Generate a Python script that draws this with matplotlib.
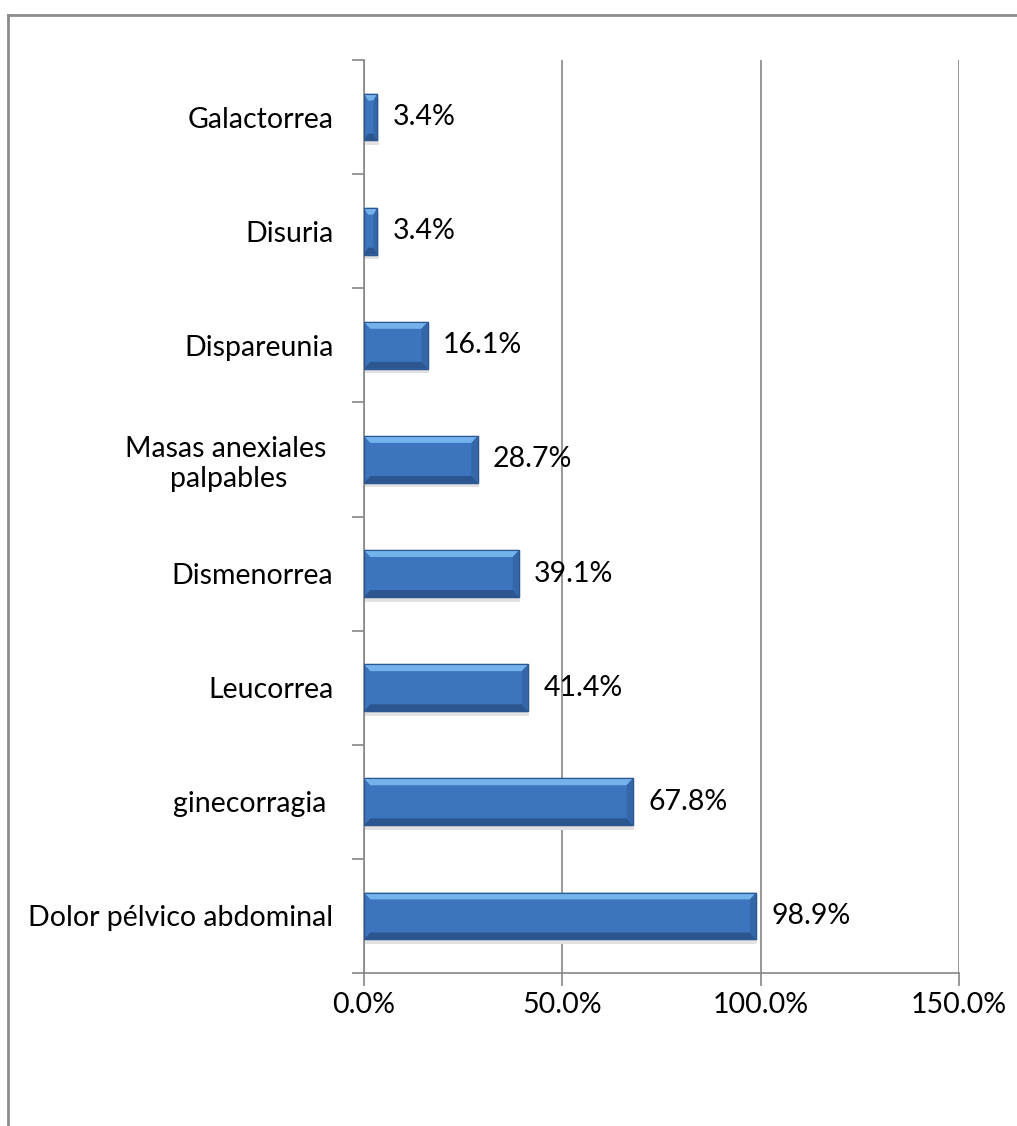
import numpy as np
import matplotlib.pyplot as plt
from matplotlib.patches import Polygon, Rectangle
from matplotlib.lines import Line2D

categorias = ["Dolor pélvico abdominal", "ginecorragia ", "Leucorrea", "Dismenorrea",
              "Masas anexiales \npalpables", "Dispareunia", "Disuria", "Galactorrea"]
valores = [98.9, 67.8, 41.4, 39.1, 28.7, 16.1, 3.4, 3.4]
xticks = [0, 50, 100, 150]

plt.rcParams['font.family'] = ['Lato', 'DejaVu Sans']

fig = plt.figure(figsize=(10.17, 11.26), dpi=100)
ax = fig.add_axes([364 / 1017, 1 - 973 / 1126, (959 - 364) / 1017, (973 - 60) / 1126])

y = np.arange(len(categorias))
h = 0.41
base = "#3C74BE"
light = "#74B2EC"
dark = "#2B5690"

for yi, v in zip(y, valores):
    # soft shadow
    ax.add_patch(Rectangle((0.3, yi - h / 2 - 0.04), v, h, color="#e2e2e2", zorder=1, lw=0))
    ax.add_patch(Rectangle((0, yi - h / 2), v, h, facecolor=base, edgecolor=dark, lw=1, zorder=3))
    dx = min(1.6, v * 0.3)
    dy = 0.06
    top = yi + h / 2
    bot = yi - h / 2
    # bevel: top (light), bottom (dark), right side
    ax.add_patch(Polygon([(0, top), (v, top), (v - dx, top - dy), (dx, top - dy)],
                         closed=True, facecolor=light, lw=0, zorder=4))
    ax.add_patch(Polygon([(0, bot), (v, bot), (v - dx, bot + dy), (dx, bot + dy)],
                         closed=True, facecolor=dark, lw=0, zorder=4))
    ax.add_patch(Polygon([(v, top), (v, bot), (v - dx, bot + dy), (v - dx, top - dy)],
                         closed=True, facecolor="#3566A8", lw=0, zorder=4))
    ax.add_patch(Rectangle((0, bot), v, h, facecolor="none", edgecolor=dark, lw=0.8, zorder=5))
    ax.text(v + 3.8, yi, f"{v:.1f}%", va="center", ha="left", fontsize=20.5, zorder=6)

ax.set_xlim(0, 150)
ax.set_ylim(-0.5, len(categorias) - 0.5)
ax.set_xticks(xticks)
ax.set_xticklabels([f"{t:.1f}%" for t in xticks], fontsize=20.5)
ax.set_yticks(y)
ax.set_yticklabels(categorias, fontsize=20.5, ha="right", multialignment="center")
ax.set_yticks(np.arange(-0.5, len(categorias)), minor=True)

ax.tick_params(axis="y", which="major", length=0, pad=22)
ax.tick_params(axis="y", which="minor", length=9, color="#868686", width=1.2)
ax.tick_params(axis="x", length=9, color="#868686", width=1.2, pad=5)

ax.grid(axis="x", color="#868686", lw=1.2, zorder=0)
ax.set_axisbelow(True)
for s in ["top", "right"]:
    ax.spines[s].set_visible(False)
for s in ["left", "bottom"]:
    ax.spines[s].set_color("#868686")
    ax.spines[s].set_linewidth(1.2)

# chart frame
fig.add_artist(Line2D([8 / 1017, 8 / 1017], [0, 1 - 15 / 1126], color="#8c8c8c", lw=2,
                      transform=fig.transFigure))
fig.add_artist(Line2D([8 / 1017, 1], [1 - 15 / 1126, 1 - 15 / 1126], color="#8c8c8c", lw=2,
                      transform=fig.transFigure))

fig.savefig("out.png", dpi=100)
